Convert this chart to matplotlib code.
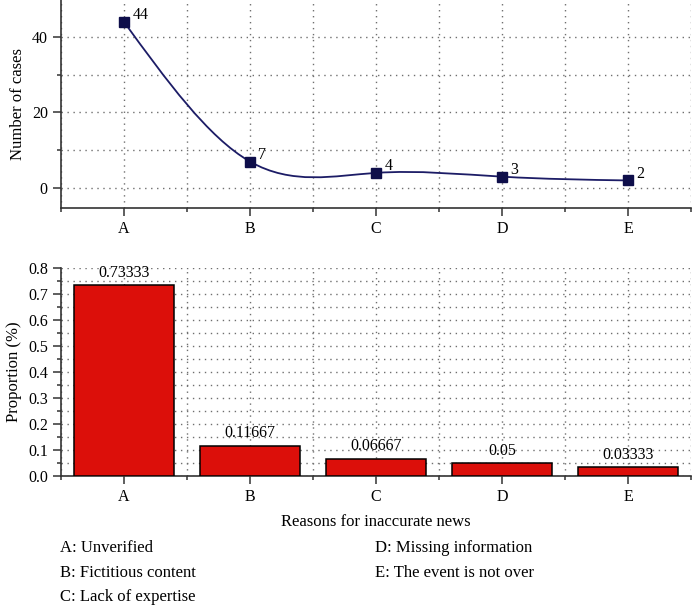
import numpy as np
import matplotlib
matplotlib.use('Agg')
import matplotlib.pyplot as plt
from matplotlib.path import Path
from matplotlib.patches import PathPatch
from matplotlib.ticker import MultipleLocator

plt.rcParams['font.family'] = ['Liberation Serif', 'DejaVu Serif']
plt.rcParams['font.size'] = 11.5

# data
reasons = ['A', 'B', 'C', 'D', 'E']
cases = [44, 7, 4, 3, 2]
proportions = [0.73333, 0.11667, 0.06667, 0.05, 0.03333]
bar_labels = ['0.73333', '0.11667', '0.06667', '0.05', '0.03333']
legend_left = ['A: Unverified', 'B: Fictitious content', 'C: Lack of expertise']
legend_right = ['D: Missing information', 'E: The event is not over']

line_col = '#1c1c66'
mark_col = '#0e0e4a'
bar_col = '#dc0f0a'
grid_col = '#6f6f6f'
spine_col = '#333333'
label_size = 12


def spline_path(xs, ys):
    # natural cubic spline through the points, handed to matplotlib as bezier segments
    xs = np.asarray(xs, float)
    ys = np.asarray(ys, float)
    n = len(xs)
    h = np.diff(xs)
    A = np.zeros((n, n))
    rhs = np.zeros(n)
    A[0, 0] = 1
    A[-1, -1] = 1
    for i in range(1, n - 1):
        A[i, i - 1] = h[i - 1]
        A[i, i] = 2 * (h[i - 1] + h[i])
        A[i, i + 1] = h[i]
        rhs[i] = 6 * ((ys[i + 1] - ys[i]) / h[i] - (ys[i] - ys[i - 1]) / h[i - 1])
    M = np.linalg.solve(A, rhs)
    verts = [(xs[0], ys[0])]
    codes = [Path.MOVETO]
    for i in range(n - 1):
        s = (ys[i + 1] - ys[i]) / h[i]
        d0 = s - h[i] * (2 * M[i] + M[i + 1]) / 6
        d1 = s + h[i] * (M[i] + 2 * M[i + 1]) / 6
        verts += [(xs[i] + h[i] / 3, ys[i] + h[i] * d0 / 3),
                  (xs[i + 1] - h[i] / 3, ys[i + 1] - h[i] * d1 / 3),
                  (xs[i + 1], ys[i + 1])]
        codes += [Path.CURVE4] * 3
    return Path(verts, codes)


def style_axes(ax):
    for side in ['top', 'right']:
        ax.spines[side].set_visible(False)
    for side in ['left', 'bottom']:
        ax.spines[side].set_color(spine_col)
        ax.spines[side].set_linewidth(1.2)
    ax.tick_params(which='major', length=6, width=1.1, color=spine_col, direction='out')
    ax.tick_params(which='minor', length=3, width=1.1, color=spine_col, direction='out')
    ax.set_axisbelow(True)
    ax.grid(which='both', color=grid_col, linestyle=(0, (1, 3.3)), linewidth=1.0)


fig = plt.figure(figsize=(6.92, 6.05), dpi=100)

xpos = np.arange(len(reasons))

# top: number of cases
ax1 = fig.add_axes([61 / 692, 397 / 605, 630 / 692, 208 / 605])
style_axes(ax1)
ax1.add_patch(PathPatch(spline_path(xpos, cases), fill=False, ec=line_col, lw=1.3, zorder=3))
ax1.plot(xpos, cases, 's', color=mark_col, ms=7, zorder=4)
for x, v in zip(xpos, cases):
    ax1.annotate(str(v), (x, v), xytext=(6, 2), textcoords='offset points',
                 ha='left', va='baseline')
ax1.set_xlim(-0.5, 4.5)
ax1.set_ylim(-5.3, 49.8)
ax1.set_xticks(xpos)
ax1.set_xticklabels(reasons)
ax1.xaxis.set_minor_locator(MultipleLocator(1, offset=0.5))
ax1.yaxis.set_major_locator(MultipleLocator(20))
ax1.yaxis.set_minor_locator(MultipleLocator(10))
ax1.set_ylabel('Number of cases', fontsize=label_size)

# bottom: proportions
ax2 = fig.add_axes([61 / 692, 129 / 605, 630 / 692, 208.3 / 605])
style_axes(ax2)
bars = ax2.bar(xpos, proportions, width=0.8, color=bar_col, edgecolor='black', linewidth=1.1, zorder=3)
for rect, lab in zip(bars, bar_labels):
    ax2.annotate(lab, (rect.get_x() + rect.get_width() / 2, rect.get_height()),
                 xytext=(0, 3), textcoords='offset points', ha='center', va='bottom')
ax2.set_xlim(-0.5, 4.5)
ax2.set_ylim(0, 0.8)
ax2.set_xticks(xpos)
ax2.set_xticklabels(reasons)
ax2.xaxis.set_minor_locator(MultipleLocator(1, offset=0.5))
ax2.yaxis.set_major_locator(MultipleLocator(0.1))
ax2.yaxis.set_minor_locator(MultipleLocator(0.05))
ax2.yaxis.set_major_formatter(plt.FormatStrFormatter('%.1f'))
ax2.set_ylabel('Proportion (%)', fontsize=label_size)
ax2.set_xlabel('Reasons for inaccurate news', fontsize=label_size, labelpad=6)

# key below the chart
ys = [548, 573, 597]
for txt, y in zip(legend_left, ys):
    fig.text(60 / 692, 1 - y / 605, txt, ha='left', va='center', fontsize=label_size)
for txt, y in zip(legend_right, ys):
    fig.text(375 / 692, 1 - y / 605, txt, ha='left', va='center', fontsize=label_size)

fig.savefig('out.png', dpi=100)
